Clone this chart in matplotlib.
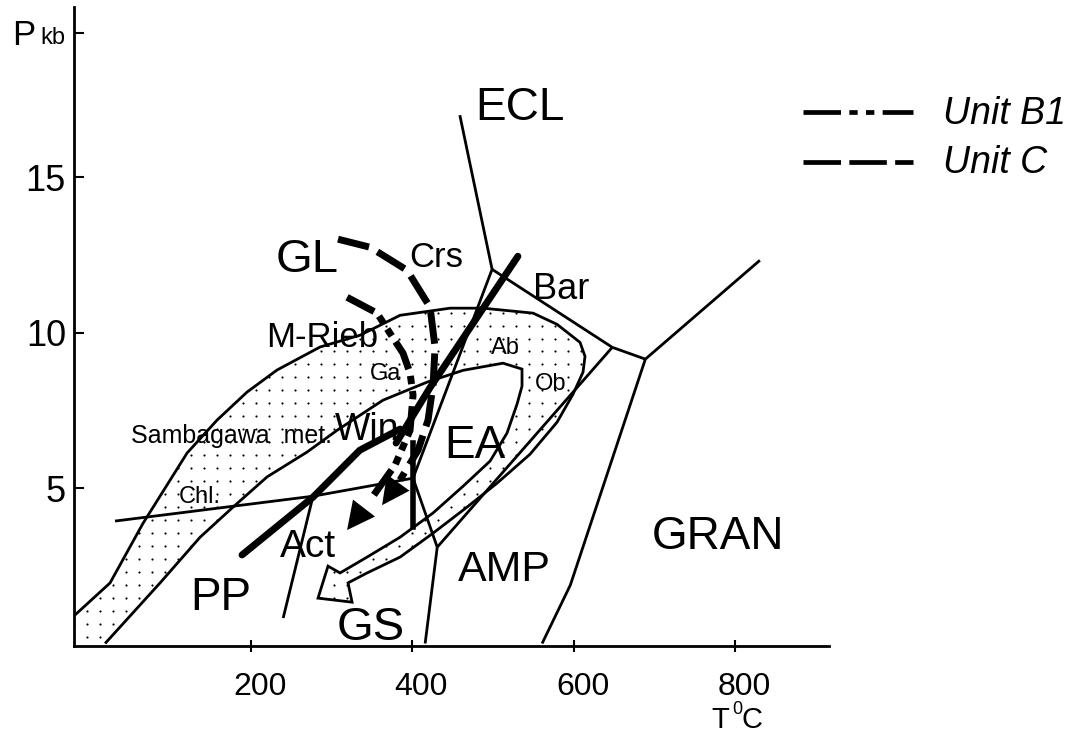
import numpy as np
import matplotlib.pyplot as plt
import matplotlib.transforms as mtransforms
from matplotlib.patches import Polygon
from matplotlib.lines import Line2D

plt.rcParams['font.family'] = ['Liberation Sans Narrow', 'Liberation Sans', 'DejaVu Sans']
plt.rcParams['lines.scale_dashes'] = False

# facies boundaries, T in degC, P in kbar
ecl_gl_T = [459, 499]
ecl_gl_P = [17.0, 12.04]
bar_T = [499, 648, 689]
bar_P = [12.04, 9.53, 9.15]
gran_ecl_T = [689, 831]
gran_ecl_P = [9.15, 12.33]
gran_amp_T = [689, 596, 561]
gran_amp_P = [9.15, 1.88, 0.0]
ea_amp_T = [648, 431]
ea_amp_P = [9.53, 3.10]
gs_amp_T = [431, 416]
gs_amp_P = [3.10, 0.0]
gl_ea_T = [499, 401, 431]
gl_ea_P = [12.04, 5.32, 3.10]
chl_T = [31.6, 277, 401]
chl_P = [3.94, 4.74, 5.32]
act_T = [277, 240]
act_P = [4.74, 0.82]

# thick reaction lines
pp_T = [189, 277, 335, 385]
pp_P = [2.85, 4.71, 6.22, 6.90]
win_T = [531, 422, 380]
win_P = [12.46, 8.23, 6.45]
vert_T = [401, 401]
vert_P = [6.45, 3.75]

# Sambagawa metamorphic field: outer edge, arrow head, inner edge
samb_out_T = [-18, 25.4, 66.3, 120.9, 158.1, 195.2, 232.4, 285.7, 335.3, 384.9, 446.9,
              487.8, 549.8, 579.5, 608.0, 614.2, 611.7, 599.3, 579.5, 546.0, 505.2,
              468.0, 425.8, 384.9, 344.0, 320.4]
samb_out_P = [0.92, 1.95, 3.87, 6.13, 7.19, 8.09, 8.80, 9.54, 9.92, 10.56, 10.79,
              10.79, 10.63, 10.27, 9.69, 9.24, 8.73, 8.02, 7.12, 6.09, 5.16,
              4.39, 3.55, 2.78, 2.27, 1.95]
samb_head_T = [325.4, 283.2, 295.6, 310.5]
samb_head_P = [1.33, 1.46, 2.49, 2.27]
samb_in_T = [344.0, 384.9, 425.8, 463.0, 496.5, 517.5, 529.9, 536.1, 536.1, 512.5,
             463.0, 418.4, 363.8, 306.8, 269.6, 220.0, 177.9, 137.0, 87.4, 19.2]
samb_in_P = [2.78, 3.42, 4.20, 5.06, 5.87, 6.77, 7.70, 8.28, 8.83, 9.02,
             8.79, 8.41, 7.83, 6.86, 6.16, 5.36, 4.39, 3.42, 1.95, 0.0]

# P-T paths
unit_c_T = [308.0, 347.7, 393.6, 422.1, 428.3, 425.8, 419.6, 407.2, 384.9, 362.6]
unit_c_P = [13.01, 12.75, 12.01, 10.82, 9.53, 8.31, 7.19, 6.22, 5.26, 4.45]
unit_b1_T = [319.2, 356.4, 372.5, 388.6, 397.3, 401.0, 397.3, 378.7, 347.7, 319.2]
unit_b1_P = [11.14, 10.63, 9.98, 9.34, 8.70, 7.99, 6.86, 5.74, 4.61, 3.65]

x_ticks = [200, 400, 600, 800]
y_ticks = [5, 10, 15]

fig = plt.figure(figsize=(10.84, 7.33), dpi=100)
ax = fig.add_axes([0.0685, 0.1187, 0.6965, 0.8713])
ax.set_xlim(-19, 917)
ax.set_ylim(-0.08, 20.47)

for s in ['top', 'right']:
    ax.spines[s].set_visible(False)
for s in ['left', 'bottom']:
    ax.spines[s].set_linewidth(2.0)

ax.set_xticks(x_ticks)
ax.set_xticklabels([str(t) for t in x_ticks], fontsize=23)
ax.set_yticks(y_ticks + [19.63])
ax.set_yticklabels([str(t) for t in y_ticks] + [''], fontsize=26)
ax.tick_params(axis='x', direction='inout', length=9, width=1.5, pad=14)
ax.tick_params(axis='y', direction='in', length=7, width=1.5, pad=6)
shift = mtransforms.ScaledTranslation(0.09, 0, fig.dpi_scale_trans)
for lab in ax.get_xticklabels():
    lab.set_transform(lab.get_transform() + shift)

thin = dict(color='black', lw=2.0, solid_capstyle='butt', solid_joinstyle='miter')
for tt, pp in [(ecl_gl_T, ecl_gl_P), (bar_T, bar_P), (gran_ecl_T, gran_ecl_P),
               (gran_amp_T, gran_amp_P), (ea_amp_T, ea_amp_P), (gs_amp_T, gs_amp_P),
               (gl_ea_T, gl_ea_P), (chl_T, chl_P), (act_T, act_P)]:
    ax.plot(tt, pp, **thin)

# stippled Sambagawa band, drawn as one outline ending in the hollow arrow
band_T = samb_out_T + samb_head_T + samb_in_T
band_P = samb_out_P + samb_head_P + samb_in_P
band = Polygon(np.column_stack([band_T + [-19, -19], band_P + [0.0, 0.92]]),
               closed=True, fc='none', ec='none')
ax.add_patch(band)
gx, gy = np.meshgrid(np.arange(-19, 640, 16.1), np.arange(0.2, 11.5, 0.418))
dots = ax.scatter(gx.ravel(), gy.ravel(), s=2.4, c='black', lw=0)
dots.set_clip_path(band)
ax.plot(band_T, band_P, **thin)

thick = dict(color='black', lw=5.0, solid_capstyle='round')
ax.plot(pp_T, pp_P, **thick)
ax.plot(win_T, win_P, **thick)
ax.plot(vert_T, vert_P, color='black', lw=4.0)

# P-T paths with arrow heads
ax.plot(unit_c_T[:-1], unit_c_P[:-1], color='black', lw=5.0, dashes=(23, 7))
ax.plot(unit_b1_T[:-1], unit_b1_P[:-1], color='black', lw=5.0, dashes=(22, 5, 6, 5, 6, 5))
for tt, pp in [(unit_c_T, unit_c_P), (unit_b1_T, unit_b1_P)]:
    ax.annotate('', xy=(tt[-1], pp[-1]), xytext=(tt[-2], pp[-2]),
                arrowprops=dict(arrowstyle='-|>,head_length=2.0,head_width=1.0',
                                color='black', lw=0, shrinkA=0, shrinkB=0))

labels = [
    ('ECL', 533.7, 16.83, 33), ('GL', 270.0, 11.95, 34), ('Crs', 429.5, 12.11, 25),
    ('Bar', 584.5, 11.08, 26), ('M-Rieb', 288.2, 9.53, 25), ('Ga', 367.5, 8.47, 17),
    ('Ab', 514.9, 9.31, 17), ('Ob', 571.9, 8.15, 17), ('Win', 344.0, 6.54, 27),
    ('EA', 477.9, 5.96, 33), ('Sambagawa  met.', 175.4, 6.45, 18),
    ('Chl.', 137.0, 4.52, 17), ('Act', 270.8, 2.78, 28), ('PP', 163.0, 1.08, 33),
    ('GS', 348.9, 0.11, 34), ('AMP', 513.7, 2.01, 31), ('GRAN', 779.1, 3.04, 33),
]
for txt, tx, ty, fs in labels:
    ax.text(tx, ty, txt, fontsize=fs, ha='center', va='baseline')

# axis titles
fig.text(12 / 1084, 1 - 45 / 733, 'P', fontsize=25, ha='left', va='baseline')
fig.text(40 / 1084, 1 - 44 / 733, 'kb', fontsize=17, ha='left', va='baseline')
fig.text(720 / 1084, 1 - 728 / 733, 'T', fontsize=21, ha='center', va='baseline')
fig.text(737 / 1084, 1 - 714 / 733, '0', fontsize=13, ha='center', va='baseline')
fig.text(752 / 1084, 1 - 728 / 733, 'C', fontsize=21, ha='center', va='baseline')

# legend
fig.add_artist(Line2D([803 / 1084, 913 / 1084], [1 - 112 / 733] * 2, color='black', lw=3.4,
                      dashes=(27, 6, 6, 6, 6, 6)))
fig.add_artist(Line2D([803 / 1084, 913 / 1084], [1 - 162 / 733] * 2, color='black', lw=3.4,
                      dashes=(27, 6)))
fig.text(943 / 1084, 1 - 124 / 733, 'Unit B1', fontsize=27, style='italic', va='baseline')
fig.text(943 / 1084, 1 - 173 / 733, 'Unit C', fontsize=27, style='italic', va='baseline')

fig.savefig('out.png', dpi=100)
